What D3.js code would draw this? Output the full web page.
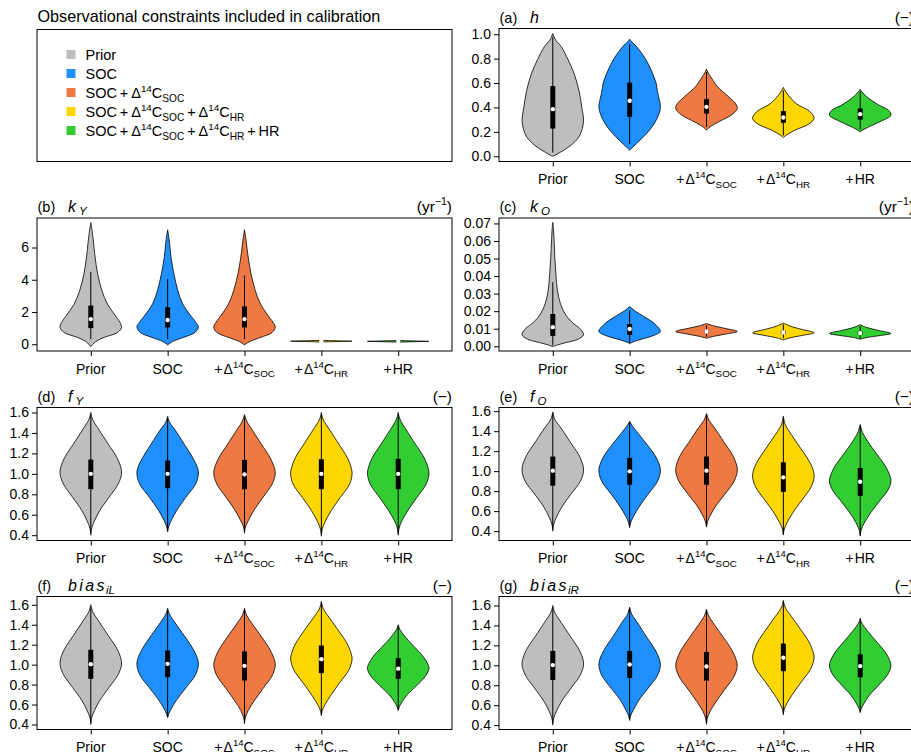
<!DOCTYPE html>
<html>
<head>
<meta charset="utf-8">
<script src="https://cdn.jsdelivr.net/npm/d3@7"></script>
<style>
  body { margin: 0; background: #fff; }
  svg text { font-family: "Liberation Sans", Arial, Helvetica, sans-serif; fill: #000; }
</style>
</head>
<body>
<svg id="chart" width="911" height="752"></svg>
<script>
// ---- calibration groups ----
const groups = ["Prior", "SOC", "SOC+D14C_SOC", "SOC+D14C_SOC+D14C_HR", "SOC+D14C_SOC+D14C_HR+HR"];
const groupFills = ["#BEBEBE", "#1E90FF", "#EE7942", "#FFD700", "#32CD32"];
// axis labels for each group (text, kind)
const groupTickLabels = [
  [["Prior"]],
  [["SOC"]],
  [["+\u200AΔ"], ["14", "sup"], ["C"], ["SOC", "sub"]],
  [["+\u200AΔ"], ["14", "sup"], ["C"], ["HR", "sub"]],
  [["+\u200AHR"]]
];
const legendLabels = [
  [["Prior"]],
  [["SOC"]],
  [["SOC\u2009+\u2009Δ"], ["14", "sup"], ["C"], ["SOC", "sub"]],
  [["SOC\u2009+\u2009Δ"], ["14", "sup"], ["C"], ["SOC", "sub"], ["\u2009+\u2009Δ"], ["14", "sup"], ["C"], ["HR", "sub"]],
  [["SOC\u2009+\u2009Δ"], ["14", "sup"], ["C"], ["SOC", "sub"], ["\u2009+\u2009Δ"], ["14", "sup"], ["C"], ["HR", "sub"], ["\u2009+\u2009HR"]]
];
const legendTitle = "Observational constraints included in calibration";

// ---- panels ----
const panelLetters = ["(a)", "(b)", "(c)", "(d)", "(e)", "(f)", "(g)"];
const panelSymbols = [
  [["h", "it"]],
  [["k", "it"], ["Y", "itsub"]],
  [["k", "it"], ["O", "itsub"]],
  [["f", "it"], ["Y", "itsub"]],
  [["f", "it"], ["O", "itsub"]],
  [["bias", "itsp"], ["iL", "itsubtight"]],
  [["bias", "itsp"], ["iR", "itsubtight"]]
];
const panelUnits = [
  [["(−)"]],
  [["(yr"], ["−1", "sup"], [")"]],
  [["(yr"], ["−1", "sup"], [")"]],
  [["(−)"]], [["(−)"]], [["(−)"]], [["(−)"]]
];
const yDomains = [
  [-0.043, 1.047], [-0.42, 7.83], [-0.0027, 0.0731],
  [0.348, 1.649], [0.306, 1.637], [0.35, 1.683], [0.356, 1.69]
];
const yTickValues = [
  [0, 0.2, 0.4, 0.6, 0.8, 1.0],
  [0, 2, 4, 6],
  [0, 0.01, 0.02, 0.03, 0.04, 0.05, 0.06, 0.07],
  [0.4, 0.6, 0.8, 1.0, 1.2, 1.4, 1.6],
  [0.4, 0.6, 0.8, 1.0, 1.2, 1.4, 1.6],
  [0.4, 0.6, 0.8, 1.0, 1.2, 1.4, 1.6],
  [0.4, 0.6, 0.8, 1.0, 1.2, 1.4, 1.6]
];
const yTickFormats = [".1f", "d", ".2f", ".1f", ".1f", ".1f", ".1f"];

// ---- violin outlines: [value, relative half-width] ----
const hViolins = [
  [[0.0,0],[0.005,0.05],[0.044,0.32],[0.09,0.59],[0.159,0.85],[0.227,0.96],[0.296,1.0],[0.405,0.94],[0.54,0.85],[0.68,0.69],[0.79,0.50],[0.90,0.27],[0.95,0.10],[0.975,0.05],[1.005,0]],
  [[0.05,0],[0.077,0.11],[0.13,0.33],[0.2,0.6],[0.3,0.87],[0.4,1.0],[0.5,0.93],[0.57,0.88],[0.6,0.86],[0.7,0.71],[0.8,0.51],[0.9,0.22],[0.94,0.06],[0.96,0]],
  [[0.214,0],[0.24,0.11],[0.28,0.38],[0.34,0.82],[0.39,1.0],[0.43,0.95],[0.49,0.71],[0.57,0.36],[0.65,0.14],[0.69,0.04],[0.715,0]],
  [[0.153,0],[0.17,0.08],[0.214,0.38],[0.263,0.82],[0.31,1.0],[0.365,0.87],[0.43,0.43],[0.5,0.16],[0.54,0.05],[0.565,0]],
  [[0.2,0],[0.214,0.08],[0.247,0.33],[0.29,0.7],[0.337,1.0],[0.378,0.92],[0.42,0.6],[0.49,0.2],[0.53,0.05],[0.55,0]]
];
const kYViolins = [
  [[-0.15,0],[0.17,0.16],[0.42,0.43],[0.73,0.87],[1.04,1.0],[1.35,0.95],[1.875,0.76],[2.5,0.54],[3.33,0.36],[4.4,0.22],[5.4,0.14],[6.46,0.08],[7.2,0.03],[7.54,0]],
  [[-0.04,0],[0.17,0.16],[0.42,0.51],[0.73,0.89],[1.08,1.0],[1.35,0.92],[1.875,0.71],[2.5,0.49],[3.33,0.33],[4.4,0.2],[5.4,0.11],[6.46,0.05],[7.1,0]],
  [[-0.04,0],[0.17,0.17],[0.42,0.52],[0.73,0.9],[1.06,1.0],[1.35,0.93],[1.875,0.73],[2.5,0.52],[3.33,0.35],[4.4,0.21],[5.4,0.12],[6.46,0.05],[7.1,0]],
  [[0.14,0],[0.17,0.6],[0.19,1.0],[0.21,0.6],[0.24,0]],
  [[0.13,0],[0.16,0.6],[0.18,1.0],[0.2,0.6],[0.23,0]]
];
const kOViolins = [
  [[-0.0002,0],[0.0008,0.16],[0.0021,0.43],[0.004,0.82],[0.0065,1.0],[0.0098,0.9],[0.0136,0.63],[0.0184,0.4],[0.0242,0.25],[0.0318,0.15],[0.0414,0.1],[0.051,0.065],[0.0606,0.04],[0.067,0.02],[0.0706,0]],
  [[0.0015,0],[0.0025,0.11],[0.004,0.38],[0.006,0.76],[0.0084,1.0],[0.0127,0.82],[0.0165,0.51],[0.0203,0.16],[0.0226,0]],
  [[0.0046,0],[0.0056,0.22],[0.0069,0.6],[0.0084,1.0],[0.0102,0.6],[0.0117,0.22],[0.013,0]],
  [[0.0036,0],[0.0048,0.22],[0.0062,0.62],[0.0077,1.0],[0.0095,0.62],[0.0115,0.22],[0.0132,0]],
  [[0.004,0],[0.005,0.22],[0.006,0.6],[0.0073,1.0],[0.009,0.6],[0.0108,0.2],[0.0123,0]]
];
const fYViolins = [
  [[0.40,0],[0.47,0.03],[0.54,0.12],[0.64,0.29],[0.77,0.59],[0.90,0.89],[1.00,1.0],[1.06,0.98],[1.16,0.85],[1.29,0.57],[1.43,0.27],[1.52,0.08],[1.56,0.03],[1.6,0]],
  [[0.433,0],[0.48,0.03],[0.54,0.11],[0.64,0.29],[0.77,0.59],[0.9,0.91],[1.0,1.0],[1.06,0.97],[1.16,0.81],[1.29,0.54],[1.43,0.24],[1.5,0.07],[1.53,0.03],[1.564,0]],
  [[0.42,0],[0.48,0.03],[0.54,0.12],[0.64,0.3],[0.77,0.6],[0.9,0.9],[1.0,1.0],[1.06,0.97],[1.16,0.83],[1.29,0.55],[1.43,0.25],[1.51,0.08],[1.55,0.03],[1.58,0]],
  [[0.39,0],[0.46,0.03],[0.53,0.12],[0.64,0.32],[0.77,0.62],[0.9,0.92],[1.0,1.0],[1.06,0.97],[1.16,0.84],[1.29,0.57],[1.43,0.27],[1.52,0.08],[1.56,0.03],[1.6,0]],
  [[0.40,0],[0.47,0.03],[0.54,0.12],[0.64,0.31],[0.77,0.61],[0.9,0.91],[1.0,1.0],[1.06,0.97],[1.16,0.84],[1.29,0.56],[1.43,0.26],[1.52,0.08],[1.56,0.03],[1.6,0]]
];
const fOViolins = [
  [[0.4,0],[0.47,0.03],[0.54,0.12],[0.64,0.29],[0.77,0.59],[0.9,0.9],[1.0,1.0],[1.06,0.98],[1.16,0.85],[1.29,0.57],[1.43,0.27],[1.51,0.08],[1.55,0.03],[1.593,0]],
  [[0.434,0],[0.49,0.04],[0.55,0.13],[0.64,0.3],[0.77,0.6],[0.9,0.91],[1.0,1.0],[1.06,0.97],[1.16,0.82],[1.28,0.53],[1.4,0.22],[1.46,0.07],[1.5,0]],
  [[0.44,0],[0.5,0.04],[0.56,0.13],[0.65,0.3],[0.77,0.6],[0.9,0.9],[1.0,1.0],[1.06,0.98],[1.16,0.85],[1.29,0.57],[1.43,0.27],[1.51,0.08],[1.55,0.03],[1.576,0]],
  [[0.36,0],[0.42,0.03],[0.49,0.13],[0.58,0.3],[0.71,0.6],[0.84,0.9],[0.94,1.0],[1.0,0.98],[1.1,0.84],[1.23,0.56],[1.37,0.25],[1.46,0.07],[1.5,0.03],[1.55,0]],
  [[0.35,0],[0.41,0.03],[0.48,0.13],[0.57,0.31],[0.69,0.6],[0.81,0.9],[0.894,1.0],[0.95,0.97],[1.05,0.82],[1.17,0.54],[1.3,0.24],[1.39,0.07],[1.43,0.03],[1.466,0]]
];
const biasLViolins = [
  [[0.40,0],[0.47,0.03],[0.54,0.12],[0.64,0.29],[0.77,0.59],[0.90,0.89],[1.00,1.0],[1.06,0.98],[1.16,0.85],[1.29,0.57],[1.43,0.27],[1.52,0.08],[1.56,0.03],[1.6,0]],
  [[0.467,0],[0.51,0.04],[0.56,0.12],[0.65,0.3],[0.77,0.6],[0.9,0.91],[1.0,1.0],[1.06,0.97],[1.16,0.82],[1.29,0.54],[1.42,0.24],[1.5,0.07],[1.53,0.03],[1.566,0]],
  [[0.407,0],[0.47,0.03],[0.54,0.12],[0.63,0.3],[0.76,0.6],[0.89,0.9],[0.99,1.0],[1.05,0.97],[1.15,0.83],[1.28,0.55],[1.41,0.25],[1.49,0.08],[1.53,0.03],[1.566,0]],
  [[0.49,0],[0.54,0.03],[0.6,0.12],[0.69,0.3],[0.82,0.6],[0.95,0.9],[1.055,1.0],[1.11,0.97],[1.21,0.84],[1.34,0.56],[1.47,0.26],[1.55,0.08],[1.59,0.03],[1.633,0]],
  [[0.54,0],[0.58,0.04],[0.63,0.13],[0.7,0.3],[0.79,0.6],[0.89,0.9],[0.96,1.0],[1.0,0.97],[1.08,0.82],[1.17,0.55],[1.27,0.25],[1.34,0.08],[1.37,0.03],[1.4,0]]
];
const biasRViolins = [
  [[0.40,0],[0.47,0.03],[0.54,0.12],[0.64,0.29],[0.77,0.59],[0.90,0.89],[1.00,1.0],[1.06,0.98],[1.16,0.85],[1.29,0.57],[1.43,0.27],[1.52,0.08],[1.56,0.03],[1.6,0]],
  [[0.447,0],[0.5,0.04],[0.55,0.12],[0.65,0.3],[0.77,0.6],[0.9,0.91],[1.0,1.0],[1.06,0.97],[1.16,0.82],[1.29,0.54],[1.43,0.25],[1.51,0.07],[1.55,0.03],[1.583,0]],
  [[0.407,0],[0.47,0.03],[0.54,0.12],[0.63,0.3],[0.76,0.6],[0.89,0.9],[0.99,1.0],[1.05,0.97],[1.15,0.83],[1.28,0.55],[1.41,0.25],[1.49,0.08],[1.53,0.03],[1.563,0]],
  [[0.501,0],[0.56,0.03],[0.62,0.12],[0.71,0.3],[0.84,0.6],[0.97,0.9],[1.076,1.0],[1.13,0.97],[1.23,0.84],[1.36,0.56],[1.49,0.26],[1.57,0.08],[1.61,0.03],[1.651,0]],
  [[0.525,0],[0.57,0.04],[0.62,0.13],[0.7,0.3],[0.8,0.6],[0.91,0.9],[0.992,1.0],[1.04,0.97],[1.13,0.82],[1.23,0.55],[1.34,0.25],[1.41,0.08],[1.44,0.03],[1.472,0]]
];

// ---- box summaries: [lower whisker, Q1, median, Q3, upper whisker] ----
const hBoxes = [[0.03,0.227,0.386,0.575,0.98],[0.1,0.323,0.455,0.603,0.92],[0.24,0.35,0.405,0.468,0.69],[0.17,0.274,0.318,0.37,0.54],[0.22,0.30,0.345,0.392,0.53]];
const kYBoxes = [[0.31,1.0,1.56,2.4,4.48],[0.31,1.04,1.5,2.29,4.06],[0.31,1.04,1.56,2.35,4.27],[0.17,0.185,0.19,0.195,0.21],[0.16,0.175,0.18,0.185,0.2]];
const kOBoxes = [[0.0005,0.0059,0.0109,0.0184,0.0365],[0.002,0.0065,0.0098,0.0127,0.0205],[0.0055,0.0077,0.0084,0.0092,0.012],[0.0045,0.0070,0.0079,0.0088,0.0125],[0.0045,0.0067,0.0075,0.0084,0.0115]];
const fYBoxes = [[0.42,0.85,1.0,1.14,1.58],[0.45,0.86,1.0,1.13,1.55],[0.44,0.85,0.995,1.136,1.56],[0.41,0.85,1.0,1.143,1.58],[0.42,0.85,1.0,1.146,1.58]];
const fOBoxes = [[0.42,0.854,1.005,1.146,1.58],[0.45,0.864,0.998,1.133,1.49],[0.45,0.864,1.005,1.146,1.57],[0.37,0.793,0.938,1.089,1.54],[0.36,0.753,0.894,1.032,1.45]];
const biasLBoxes = [[0.42,0.858,1.005,1.149,1.58],[0.48,0.875,1.008,1.142,1.55],[0.42,0.841,0.988,1.132,1.55],[0.5,0.915,1.055,1.192,1.62],[0.55,0.858,0.96,1.065,1.39]];
const biasRBoxes = [[0.42,0.853,1.002,1.144,1.58],[0.46,0.873,1.008,1.144,1.57],[0.42,0.846,0.988,1.134,1.55],[0.52,0.941,1.076,1.218,1.64],[0.54,0.88,0.992,1.11,1.46]];

const panelViolins = [hViolins, kYViolins, kOViolins, fYViolins, fOViolins, biasLViolins, biasRViolins];
const panelBoxes = [hBoxes, kYBoxes, kOBoxes, fYBoxes, fOBoxes, biasLBoxes, biasRBoxes];

// ---- layout ----
const colLeft = [37, 499];
const boxWidth = 415;
const rowTop = [28.5, 218, 407.5, 596.5];
const boxHeight = 133;
// panel -> [column, row]
const panelCell = [[1,0],[0,1],[1,1],[0,2],[1,2],[0,3],[1,3]];

const svg = d3.select("#chart");

// Writes rich text (superscripts, subscripts, italics) into a <text> element
function rich(textSel, parts, size) {
  let off = 0;
  parts.forEach(([s, kind]) => {
    let target = 0, fs = size, italic = false, spacing = null, dx = 0;
    if (kind === "sup") { target = -size * 0.42; fs = size * 0.68; }
    else if (kind === "sub") { target = size * 0.26; fs = size * 0.7; }
    else if (kind === "it") { italic = true; }
    else if (kind === "itsp") { italic = true; spacing = 2.4; }
    else if (kind === "itsub") { italic = true; target = size * 0.2; fs = size * 0.72; dx = 3; }
    else if (kind === "itsubtight") { italic = true; target = size * 0.2; fs = size * 0.72; dx = -1; }
    const t = textSel.append("tspan").text(s)
      .attr("font-size", fs)
      .attr("dy", target - off);
    if (dx) t.attr("dx", dx);
    if (italic) t.attr("font-style", "italic");
    if (spacing) t.attr("letter-spacing", spacing);
    off = target;
  });
}

// ---- legend panel ----
const lg = svg.append("g");
lg.append("text").attr("x", 37.5).attr("y", 22).attr("font-size", 16.2).text(legendTitle);
lg.append("rect").attr("x", 37).attr("y", 29.5).attr("width", boxWidth).attr("height", 132)
  .attr("fill", "none").attr("stroke", "#000").attr("stroke-width", 1);
groups.forEach((g, i) => {
  const by = 60 + i * 19;
  lg.append("rect").attr("x", 66.5).attr("y", by - 10).attr("width", 9).attr("height", 9)
    .attr("fill", groupFills[i]);
  const t = lg.append("text").attr("x", 85.5).attr("y", by).attr("font-size", 14.5);
  rich(t, legendLabels[i], 14.5);
});

// ---- violin panels ----
panelLetters.forEach((letter, p) => {
  const [col, row] = panelCell[p];
  const left = colLeft[col], top = rowTop[row];
  const right = left + boxWidth, bottom = top + boxHeight;
  const g = svg.append("g");

  const x = d3.scaleLinear().domain([0.3, 5.7]).range([left, right]);
  const y = d3.scaleLinear().domain(yDomains[p]).range([bottom, top]);
  const halfW = x(1.4) - x(1);

  // violins
  panelViolins[p].forEach((prof, i) => {
    const cx = x(i + 1);
    const area = d3.area()
      .curve(d3.curveCatmullRom.alpha(0.5))
      .y(d => y(d[0]))
      .x0(d => cx - halfW * d[1])
      .x1(d => cx + halfW * d[1]);
    g.append("path").attr("d", area(prof))
      .attr("fill", groupFills[i]).attr("stroke", "#000").attr("stroke-width", 0.8);
  });

  // box summaries
  panelBoxes[p].forEach((b, i) => {
    const cx = x(i + 1);
    g.append("line").attr("x1", cx).attr("x2", cx).attr("y1", y(b[0])).attr("y2", y(b[4]))
      .attr("stroke", "#000").attr("stroke-width", 1);
    g.append("rect").attr("x", cx - 2.5).attr("width", 5)
      .attr("y", y(b[3])).attr("height", Math.max(0.5, y(b[1]) - y(b[3])))
      .attr("fill", "#000");
    g.append("circle").attr("cx", cx).attr("cy", y(b[2])).attr("r", 2.2).attr("fill", "#fff");
  });

  // frame
  g.append("rect").attr("x", left).attr("y", top).attr("width", boxWidth).attr("height", boxHeight)
    .attr("fill", "none").attr("stroke", "#000").attr("stroke-width", 1);

  // y axis
  const ya = g.append("g").attr("transform", `translate(${left},0)`)
    .call(d3.axisLeft(y).tickValues(yTickValues[p]).tickSize(5).tickPadding(3)
      .tickFormat(d3.format(yTickFormats[p])));
  ya.select(".domain").remove();
  ya.attr("font-size", 14);

  // x axis ticks and group labels
  const xa = g.append("g").attr("transform", `translate(0,${bottom})`)
    .call(d3.axisBottom(x).tickValues([1, 2, 3, 4, 5]).tickSize(5).tickFormat(""));
  xa.select(".domain").remove();
  groupTickLabels.forEach((parts, i) => {
    const t = g.append("text").attr("x", x(i + 1)).attr("y", bottom + 22.5)
      .attr("text-anchor", "middle").attr("font-size", 14);
    rich(t, parts, 14);
  });

  // panel title and unit
  g.append("text").attr("x", left + 0.5).attr("y", top - 6).attr("font-size", 14.5).text(letter);
  const st = g.append("text").attr("x", left + 31).attr("y", top - 6).attr("font-size", 16);
  rich(st, panelSymbols[p], 16);
  const ut = g.append("text").attr("x", right).attr("y", top - 6)
    .attr("text-anchor", "end").attr("font-size", 15.5);
  rich(ut, panelUnits[p], 15.5);
});
</script>
</body>
</html>
